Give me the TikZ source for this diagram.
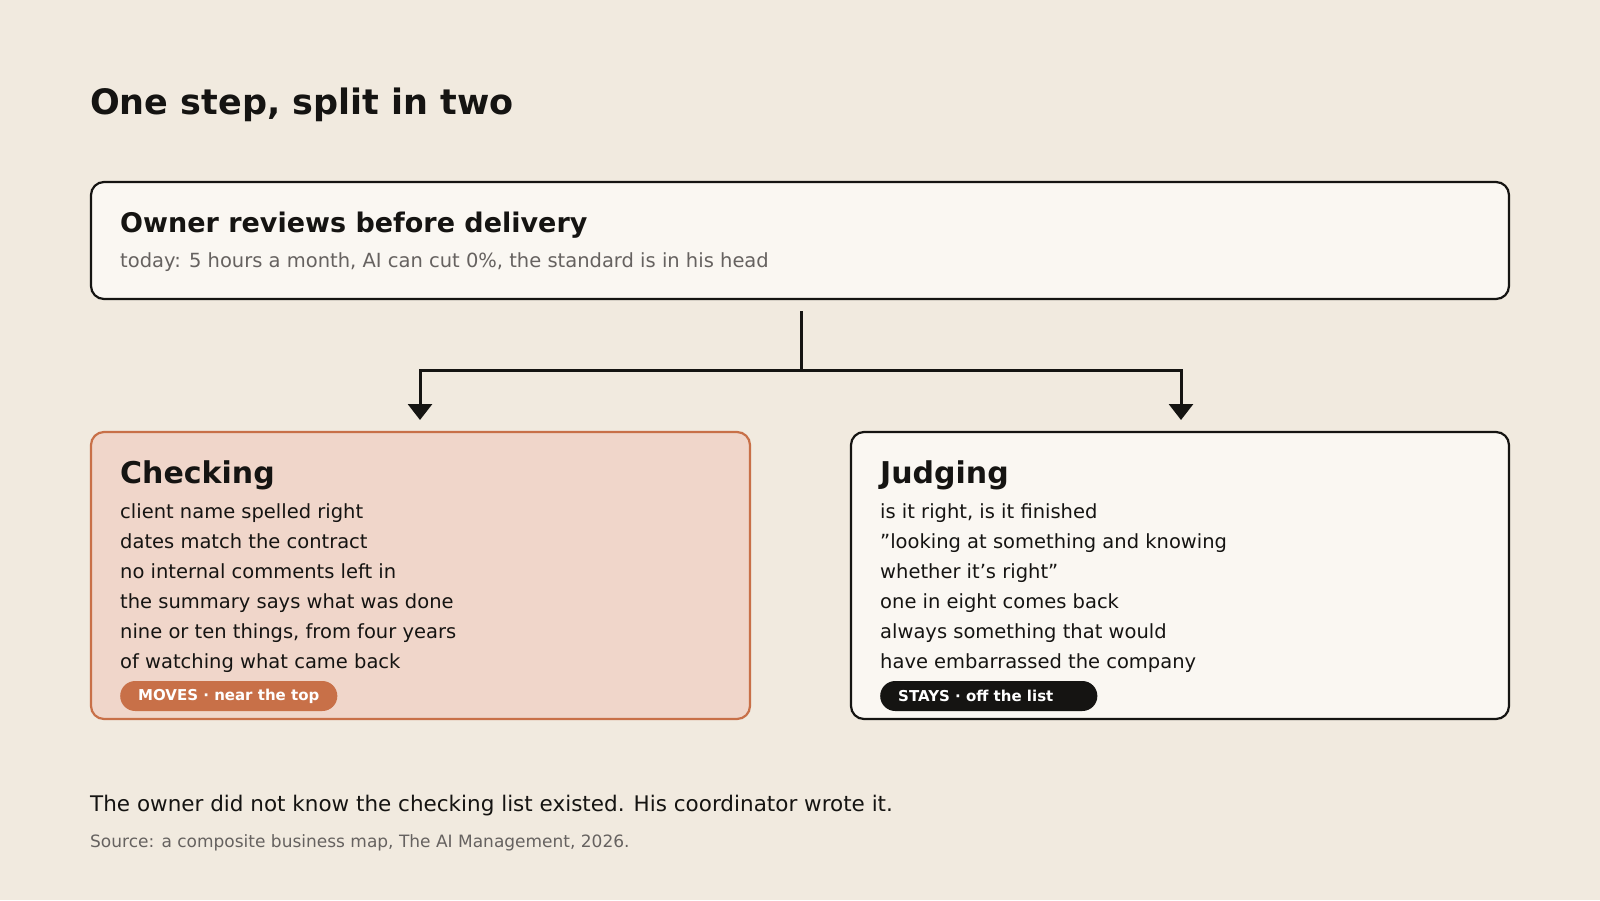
\documentclass[tikz,border=0pt]{standalone}
\usepackage{fontspec}
\setmainfont{DejaVu Sans}
\usepackage{tikz}
\usetikzlibrary{positioning,arrows.meta}
\definecolor{paper}{HTML}{F1EADF}
\definecolor{card}{HTML}{FAF7F2}
\definecolor{ink}{HTML}{151412}
\definecolor{clay}{HTML}{C87048}
\definecolor{blush}{HTML}{F0D6CA}
\definecolor{mute}{HTML}{666260}
\tikzset{
  box/.style={draw=ink, line width=2.2pt, rounded corners=13pt, fill=card},
  head/.style={anchor=base west, inner sep=0pt, font=\bfseries\fontsize{30}{36}\selectfont, text=ink},
  items/.style={anchor=north west, inner sep=0pt, align=left, text=ink,
    font=\fontsize{19.5}{30}\selectfont},
  pill/.style={anchor=west, rounded corners=15pt, minimum height=30pt, inner xsep=18pt,
    text=white, font=\bfseries\fontsize{15}{18}\selectfont},
  link/.style={draw=ink, line width=3pt, -{Triangle[length=16pt,width=24pt]}}
}
\begin{document}
\begin{tikzpicture}[x=1pt,y=-1pt]
  \fill[paper] (0,0) rectangle (1600,900);
  \useasboundingbox (0,0) rectangle (1600,900);

  \node[head, font=\bfseries\fontsize{35}{40}\selectfont] (title) at (90,114) {One step, split in two};

  % top card
  \draw[box] (91,182) rectangle (1509,299);
  \node[head, font=\bfseries\fontsize{27}{32}\selectfont] (owner) at (120,232) {Owner reviews before delivery};
  \node[anchor=base west, inner sep=0pt, text=mute, font=\fontsize{19.5}{24}\selectfont] (today) at (120,267)
    {today: 5 hours a month, AI can cut 0\%, the standard is in his head};

  % connector
  \coordinate (stem) at (801,311);
  \coordinate (fork) at (801,370);
  \coordinate (lt) at (420,420);
  \coordinate (rt) at (1181,420);
  \draw[draw=ink, line width=3pt] (stem) -- (fork);
  \draw[link] (fork) -| (lt);
  \draw[link] (fork) -| (rt);

  % left card
  \draw[box, draw=clay, fill=blush] (91,432) rectangle (750,719);
  \node[head] (check) at (120,483) {Checking};
  \node[items] (checklist) at (120,503) {client name spelled right\\dates match the contract\\no internal comments left in\\the summary says what was done\\nine or ten things, from four years\\of watching what came back};
  \node[pill, fill=clay] (moves) at (120,696) {MOVES · near the top};

  % right card
  \draw[box] (851,432) rectangle (1509,719);
  \node[head] (judge) at (880,483) {Judging};
  \node[items] (judgelist) at (880,503) {is it right, is it finished\\"looking at something and knowing\\whether it's right"\\one in eight comes back\\always something that would\\have embarrassed the company};
  \node[pill, fill=ink, inner xsep=18pt, minimum width=210pt, align=left] (stays) at (880,696) {STAYS · off the list\hspace{26pt}};

  % footer
  \node[anchor=base west, inner sep=0pt, text=ink, font=\fontsize{21.5}{26}\selectfont] (note) at (90,811)
    {The owner did not know the checking list existed. His coordinator wrote it.};
  \node[anchor=base west, inner sep=0pt, text=mute, font=\fontsize{17}{20}\selectfont] (source) at (90,847)
    {Source: a composite business map, The AI Management, 2026.};
\end{tikzpicture}
\end{document}
